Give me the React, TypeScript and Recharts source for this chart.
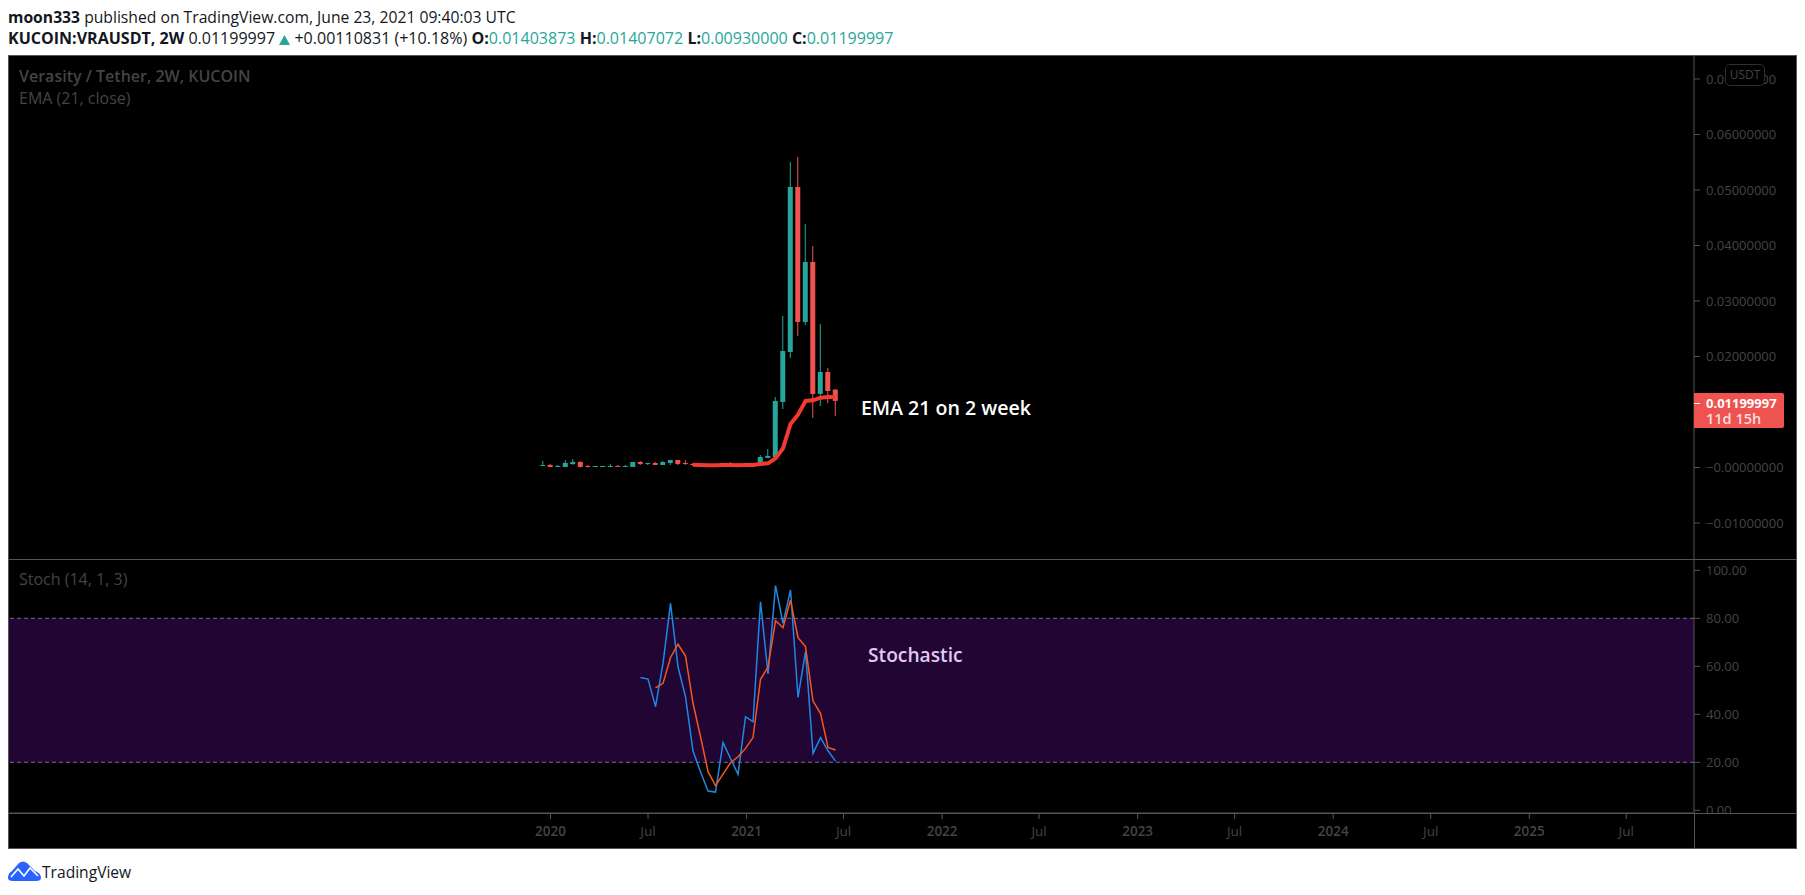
import React from "react";
import { ComposedChart, Bar, Line, XAxis, YAxis, ReferenceArea, ReferenceLine } from "recharts";

const barDates = ["2019-12-18","2020-01-01","2020-01-15","2020-01-29","2020-02-12","2020-02-26","2020-03-11","2020-03-25","2020-04-08","2020-04-22","2020-05-06","2020-05-20","2020-06-03","2020-06-17","2020-07-01","2020-07-15","2020-07-29","2020-08-12","2020-08-26","2020-09-09","2020-09-23","2020-10-07","2020-10-21","2020-11-04","2020-11-18","2020-12-02","2020-12-16","2020-12-30","2021-01-13","2021-01-27","2021-02-10","2021-02-24","2021-03-10","2021-03-24","2021-04-07","2021-04-21","2021-05-05","2021-05-19","2021-06-02","2021-06-16"];
const opens = [.00027,.00045,.00009,.00009,.00063,.00099,.00027,.00009,.00009,.00009,.00027,.00009,.00009,.00099,.00063,.00081,.00045,.00081,.00135,.00081,.00063,.00039,.00045,.00039,.00009,.00081,.00063,.00027,.00063,.00045,.00171,.00189,.0118,.02081,.05054,.02622,.03703,.01324,.01721,.01403873];
const highs = [.00117,.00063,.00045,.00135,.00153,.00111,.00045,.00027,.00027,.00063,.00045,.00045,.00099,.00117,.00081,.00099,.00117,.00135,.00135,.00135,.00081,.00063,.00063,.00063,.00081,.00099,.00081,.00081,.00081,.00225,.00333,.0127,.0273,.05505,.05595,.04387,.03991,.02586,.01793,.01407072];
const lows = [.00027,.00009,.00009,.00009,.00045,.00001,.00001,.00009,.00009,.00009,.00009,.00009,.00009,.00045,.00045,.00045,.00045,.00045,.00045,.00045,.00027,.00027,.00027,.00027,.00009,.00045,.00027,.00027,.00027,.00027,.00171,.00189,.01054,.01973,.02369,.02568,.00892,.01108,.01162,.0093];
const closes = [.00045,.00009,.00027,.00081,.00099,.00009,.00009,.00027,.00027,.00027,.00009,.00027,.00099,.00063,.00081,.00045,.00099,.00135,.00063,.00063,.00045,.00045,.00039,.00045,.00081,.00045,.00045,.00063,.00045,.00189,.00207,.01198,.02099,.05054,.02622,.03703,.01324,.01721,.01378,.01199997];
const emaValues = [null,null,null,null,null,null,null,null,null,null,null,null,null,null,null,null,null,null,null,null,.00051,.00045,.00039,.00039,.00045,.00045,.00039,.00045,.00045,.00063,.00075,.00165,.00345,.00784,.00952,.01198,.0121,.01258,.0127,.0127];
const stochK = [null,null,null,null,null,null,null,null,null,null,null,null,null,55.3,54.7,43.2,61.2,86.2,59.8,47.3,24.7,16.1,8.0,7.6,28.2,21.6,15.0,39.0,36.9,86.9,56.8,93.6,77.9,91.8,47.1,66.1,23.7,30.3,24.8,20.5];
const stochD = [null,null,null,null,null,null,null,null,null,null,null,null,null,null,null,51.0,52.9,63.7,69.2,64.3,44.6,30.7,16.1,10.3,15.1,19.8,22.3,25.8,30.3,54.6,59.6,79.0,76.1,87.6,71.9,68.2,45.5,40.4,26.2,25.1];

const priceTicks = [-0.01, 0, 0.01, 0.02, 0.03, 0.04, 0.05, 0.06, 0.07];
const stochTicks = [0, 20, 40, 60, 80, 100];
const timeTicks = ["2020-01-01","2020-07-01","2021-01-01","2021-07-01","2022-01-01","2022-07-01","2023-01-01","2023-07-01","2024-01-01","2024-07-01","2025-01-01","2025-07-01"];
const timeLabels = ["2020","Jul","2021","Jul","2022","Jul","2023","Jul","2024","Jul","2025","Jul"];

const DAY = 86400000;
const ms = (s: string) => Date.parse(s + "T00:00:00Z");
const origin = ms("2020-01-01");
const xDomain = [origin - 1012.7 * DAY, origin + 2134.5 * DAY];
const FONT = "'Open Sans', sans-serif";
const GRID = "#555555";
const AXIS_TEXT = "#444444";
const TEAL = "#26a69a";
const RED = "#ef5350";

const rows = barDates.map((d, i) => ({
  t: ms(d),
  open: opens[i],
  high: highs[i],
  low: lows[i],
  close: closes[i],
  range: [lows[i], highs[i]],
  ema: emaValues[i],
  k: stochK[i],
  d: stochD[i],
}));

const Candle = (p: any) => {
  const { x, y, width, height, payload } = p;
  const { open, high, low, close } = payload;
  const k = height / (high - low);
  const top = y + (high - Math.max(open, close)) * k;
  const bot = y + (high - Math.min(open, close)) * k;
  const c = close >= open ? TEAL : RED;
  const cx = x + width / 2;
  return (
    <g>
      <rect x={cx - 0.5} y={y} width={1} height={Math.max(height, 1)} fill={c} />
      <rect x={cx - 2.5} y={top} width={5} height={Math.max(bot - top, 1)} fill={c} />
    </g>
  );
};

const TimeTick = (p: any) => {
  const i = timeTicks.findIndex((s) => ms(s) === p.payload.value);
  const label = timeLabels[i];
  return (
    <text x={p.x} y={p.y + 15} textAnchor="middle" fontFamily={FONT} fontSize={13.5} fontWeight={label === "Jul" ? 400 : 600} fill={AXIS_TEXT}>
      {label}
    </text>
  );
};

const priceLabel = (v: number) => (v === 0 ? "\u22120.00000000" : v < 0 ? "\u2212" + Math.abs(v).toFixed(8) : v.toFixed(8));

const abs = (left: number, top: number, extra: any = {}): React.CSSProperties => ({
  position: "absolute", left, top, whiteSpace: "nowrap", fontFamily: FONT, ...extra,
});

export default function App() {
  return (
    <div style={{ position: "absolute", left: 0, top: 0, width: 1805, height: 895, background: "#fff", overflow: "hidden" }}>
      <div style={abs(8, 7, { fontSize: 15.7, color: "#131722", lineHeight: "20px" })}>
        <b>moon333</b> published on TradingView.com, June 23, 2021 09:40:03 UTC
      </div>
      <div style={abs(8, 28, { fontSize: 16.05, color: "#131722", lineHeight: "20px" })}>
        <b>KUCOIN:VRAUSDT, 2W</b> 0.01199997{" "}
        <svg width={11} height={10} viewBox="0 0 11 10" style={{ display: "inline-block", verticalAlign: "-1px" }}><path d="M5.5 0 L11 10 L0 10 Z" fill={TEAL} /></svg>{" "}
        +0.00110831 (+10.18%){" "}
        <b>O:</b><span style={{ color: TEAL }}>0.01403873</span> <b>H:</b><span style={{ color: TEAL }}>0.01407072</span>{" "}
        <b>L:</b><span style={{ color: TEAL }}>0.00930000</span> <b>C:</b><span style={{ color: TEAL }}>0.01199997</span>
      </div>

      <div style={{ position: "absolute", left: 8, top: 55, width: 1789, height: 793, background: "#000" }} />

      <div style={{ position: "absolute", left: 8, top: 55 }}>
        <ComposedChart width={1789} height={504.4} data={rows} margin={{ top: 0, right: 0, bottom: 0, left: 0 }}>
          <XAxis dataKey="t" type="number" scale="linear" domain={xDomain} allowDataOverflow hide />
          <YAxis orientation="right" width={103} domain={[-0.01656, 0.07432]} allowDataOverflow ticks={priceTicks} interval={0}
            tickFormatter={priceLabel} tickSize={6} tickMargin={6}
            axisLine={{ stroke: GRID }} tickLine={{ stroke: GRID }}
            tick={{ fill: AXIS_TEXT, fontSize: 13, fontFamily: FONT }} />
          <Bar dataKey="range" barSize={5} shape={<Candle />} isAnimationActive={false} />
          <Line dataKey="ema" stroke="#f4392f" strokeWidth={4} dot={false} isAnimationActive={false} />
        </ComposedChart>
      </div>

      <div style={{ position: "absolute", left: 8, top: 560 }}>
        <ComposedChart width={1789} height={288} data={rows} margin={{ top: 0, right: 0, bottom: 0, left: 0 }}>
          <XAxis dataKey="t" type="number" scale="linear" domain={xDomain} allowDataOverflow height={35}
            ticks={timeTicks.map(ms)} interval={0} tickSize={6}
            axisLine={{ stroke: GRID }} tickLine={{ stroke: GRID }} tick={<TimeTick />} />
          <YAxis orientation="right" width={103} domain={[-1.125, 104.3]} allowDataOverflow ticks={stochTicks} interval={0}
            tickFormatter={(v: number) => v.toFixed(2)} tickSize={6} tickMargin={6}
            axisLine={{ stroke: GRID }} tickLine={{ stroke: GRID }}
            tick={{ fill: AXIS_TEXT, fontSize: 13, fontFamily: FONT }} />
          <ReferenceArea y1={20} y2={80} fill="#210533" fillOpacity={1} stroke="none" />
          <ReferenceLine y={80} stroke="#7a6a88" strokeDasharray="4 3" />
          <ReferenceLine y={20} stroke="#7a6a88" strokeDasharray="4 3" />
          <Line dataKey="k" stroke="#1e88e5" strokeWidth={1.5} dot={false} isAnimationActive={false} />
          <Line dataKey="d" stroke="#f4581f" strokeWidth={1.5} dot={false} isAnimationActive={false} />
        </ComposedChart>
      </div>

      <div style={{ position: "absolute", left: 1695, top: 814, width: 101, height: 34, background: "#000" }} />
      <div style={{ position: "absolute", left: 8, top: 813, width: 1789, height: 1, background: GRID }} />
      <div style={{ position: "absolute", left: 1694, top: 813, width: 1, height: 35, background: GRID }} />
      <div style={{ position: "absolute", left: 8, top: 559, width: 1789, height: 1, background: GRID }} />
      <div style={{ position: "absolute", left: 8, top: 55, width: 1789, height: 794, boxSizing: "border-box", border: `1px solid ${GRID}`, pointerEvents: "none" }} />

      <div style={abs(19, 65, { fontSize: 16, fontWeight: 600, color: "#444" })}>Verasity / Tether, 2W, KUCOIN</div>
      <div style={abs(19, 87, { fontSize: 16, color: "#444" })}>EMA (21, close)</div>
      <div style={abs(19, 568, { fontSize: 16, color: "#444" })}>Stoch (14, 1, 3)</div>
      <div style={abs(861, 393.5, { fontSize: 19.6, fontWeight: 600, color: "#fff" })}>EMA 21 on 2 week</div>
      <div style={abs(868, 641, { fontSize: 19.2, fontWeight: 600, color: "#e1c9f2" })}>Stochastic</div>

      <div style={abs(1725, 64, { width: 40, height: 22, boxSizing: "border-box", background: "#000", border: "1px solid #2a2e39", borderRadius: 5, fontSize: 12, color: "#444", textAlign: "center", lineHeight: "19px" })}>USDT</div>

      <div style={abs(1694, 393, { width: 90, height: 35, background: RED, borderRadius: "0 2px 2px 0" })}>
        <div style={{ position: "absolute", left: 0, top: 10, width: 6, height: 1, background: "#fff" }} />
        <div style={{ position: "absolute", left: 12, top: 2, fontSize: 13, fontWeight: 700, color: "#fff", lineHeight: "16px" }}>0.01199997</div>
        <div style={{ position: "absolute", left: 12, top: 18, fontSize: 14.5, fontWeight: 600, color: "#fbdcdc", lineHeight: "16px" }}>11d 15h</div>
      </div>

      <svg style={{ position: "absolute", left: 8, top: 861 }} width={33} height={20} viewBox="0 0 33 20">
        <path d="M0 17 Q0 12 4 10 L11 2 Q15 -1 19 2 L27 10 Q33 12 33 17 Q33 20 28 20 L5 20 Q0 20 0 17 Z" fill="#2962ff" />
        <path d="M3 16 L10 8 L16 15 L22 7 L30 15" fill="none" stroke="#fff" strokeWidth={1.6} />
      </svg>
      <div style={abs(42, 862, { fontSize: 15.6, color: "#131722", lineHeight: "20px" })}>TradingView</div>
    </div>
  );
}
